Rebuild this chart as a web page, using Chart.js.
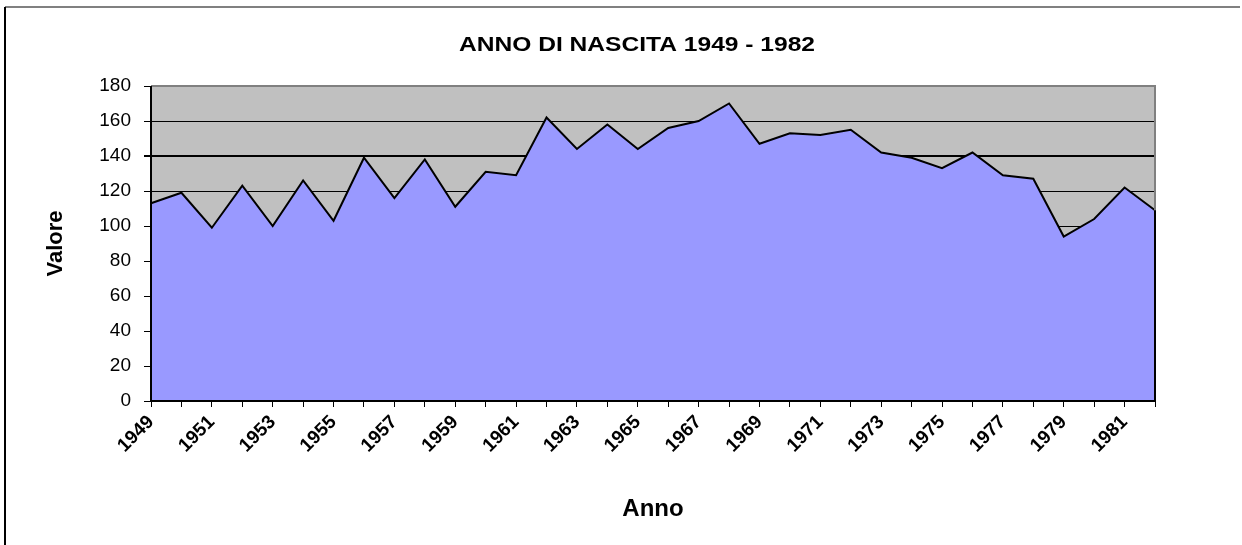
<!DOCTYPE html>
<html>
<head>
<meta charset="utf-8">
<title>Anno di nascita 1949 - 1982</title>
<script src="https://cdn.jsdelivr.net/npm/chart.js@4/dist/chart.umd.min.js"></script>
<style>
  body { margin: 0; background: #fff; }
  canvas { display: block; }
</style>
</head>
<body>
<canvas id="nascite" width="1242" height="545"></canvas>
<script>
// anni (categorie)
var anni = ["1949", "1950", "1951", "1952", "1953", "1954", "1955", "1956", "1957", "1958",
            "1959", "1960", "1961", "1962", "1963", "1964", "1965", "1966", "1967", "1968",
            "1969", "1970", "1971", "1972", "1973", "1974", "1975", "1976", "1977", "1978",
            "1979", "1980", "1981", "1982"];

// valori
var valori = [113, 119, 99, 123, 100, 126, 103, 139, 116, 138,
              111, 131, 129, 162, 144, 158, 144, 156, 160, 170,
              147, 153, 152, 155, 142, 139, 133, 142, 129, 127,
              94, 104, 122, 109];

// tacche asse y
var tickY = [0, 20, 40, 60, 80, 100, 120, 140, 160, 180];

var titolo = "ANNO DI NASCITA 1949 - 1982";

Chart.defaults.font.family = "'Liberation Sans', Arial, sans-serif";
Chart.defaults.color = "#000";

// sfondo grigio, cornice, assi e titolo
var cornice = {
  id: "cornice",
  beforeDraw: function (chart) {
    var ctx = chart.ctx;
    var a = chart.chartArea;
    ctx.save();
    ctx.fillStyle = "#fff";
    ctx.fillRect(0, 0, chart.width, chart.height);
    // bordo esterno
    ctx.lineWidth = 2;
    ctx.strokeStyle = "#808080";
    ctx.beginPath();
    ctx.moveTo(5, 7);
    ctx.lineTo(1240, 7);
    ctx.stroke();
    ctx.strokeStyle = "#000";
    ctx.beginPath();
    ctx.moveTo(5, 7);
    ctx.lineTo(5, chart.height);
    ctx.stroke();
    // area del grafico
    ctx.fillStyle = "#c0c0c0";
    ctx.fillRect(a.left, a.top, a.right - a.left, a.bottom - a.top);
    ctx.restore();
  },
  afterDatasetsDraw: function (chart) {
    var ctx = chart.ctx;
    var a = chart.chartArea;
    var pts = chart.getDatasetMeta(0).data;
    var ultimo = pts[pts.length - 1];
    ctx.save();
    ctx.lineWidth = 2;
    ctx.strokeStyle = "#808080";
    ctx.beginPath();
    ctx.moveTo(a.left, a.top);
    ctx.lineTo(a.right, a.top);
    ctx.lineTo(a.right, a.bottom);
    ctx.stroke();
    ctx.strokeStyle = "#000";
    ctx.beginPath();
    ctx.moveTo(ultimo.x, ultimo.y);
    ctx.lineTo(ultimo.x, a.bottom);
    ctx.stroke();
    // assi
    ctx.beginPath();
    ctx.moveTo(a.left, a.top);
    ctx.lineTo(a.left, a.bottom);
    ctx.lineTo(a.right + 1, a.bottom);
    ctx.stroke();
    ctx.restore();
  },
  afterDraw: function (chart) {
    // titolo un po' allargato come nell'originale
    var ctx = chart.ctx;
    ctx.save();
    ctx.font = "bold 21px 'Liberation Sans', Arial, sans-serif";
    ctx.fillStyle = "#000";
    ctx.textAlign = "center";
    ctx.textBaseline = "middle";
    ctx.translate(637, 45);
    ctx.scale(1.17, 1);
    ctx.fillText(titolo, 0, 0);
    ctx.restore();
  }
};

var ctx = document.getElementById("nascite").getContext("2d");
var chart = new Chart(ctx, {
  type: "line",
  data: {
    labels: anni,
    datasets: [
      {
        label: "Valore",
        data: valori,
        fill: "origin",
        backgroundColor: "#9999ff",
        borderColor: "#000",
        borderWidth: 2,
        pointRadius: 0,
        tension: 0
      }
    ]
  },
  options: {
    responsive: false,
    animation: false,
    layout: {
      padding: { left: 0, right: 87, top: 86, bottom: 0 }
    },
    plugins: {
      legend: { display: false },
      tooltip: { enabled: false },
      title: { display: false }
    },
    scales: {
      x: {
        offset: false,
        grid: {
          display: true,
          drawOnChartArea: false,
          drawTicks: true,
          tickLength: 6,
          tickColor: "#000",
          tickWidth: 1
        },
        border: { display: false },
        ticks: {
          autoSkip: false,
          maxRotation: 45,
          minRotation: 45,
          padding: 4,
          font: { size: 19, weight: "bold" },
          callback: function (val, i) {
            return i % 2 === 0 ? anni[i] : "";
          }
        },
        title: {
          display: true,
          text: "Anno",
          font: { size: 24, weight: "bold" },
          padding: { top: 0, bottom: 21 }
        },
        afterFit: function (scale) {
          scale.height = 144;
        }
      },
      y: {
        min: tickY[0],
        max: tickY[tickY.length - 1],
        grid: {
          color: "#000",
          lineWidth: function (c) {
            return c.tick && c.tick.value === 140 ? 2 : 1;
          },
          drawTicks: true,
          tickLength: 7,
          tickColor: "#000"
        },
        border: { display: false },
        ticks: {
          stepSize: tickY[1] - tickY[0],
          padding: 13,
          font: { size: 19 }
        },
        title: {
          display: true,
          text: "Valore",
          font: { size: 22, weight: "bold" },
          padding: { top: 43, bottom: 0 }
        },
        afterFit: function (scale) {
          scale.width = 151;
        }
      }
    }
  },
  plugins: [cornice]
});
</script>
</body>
</html>
